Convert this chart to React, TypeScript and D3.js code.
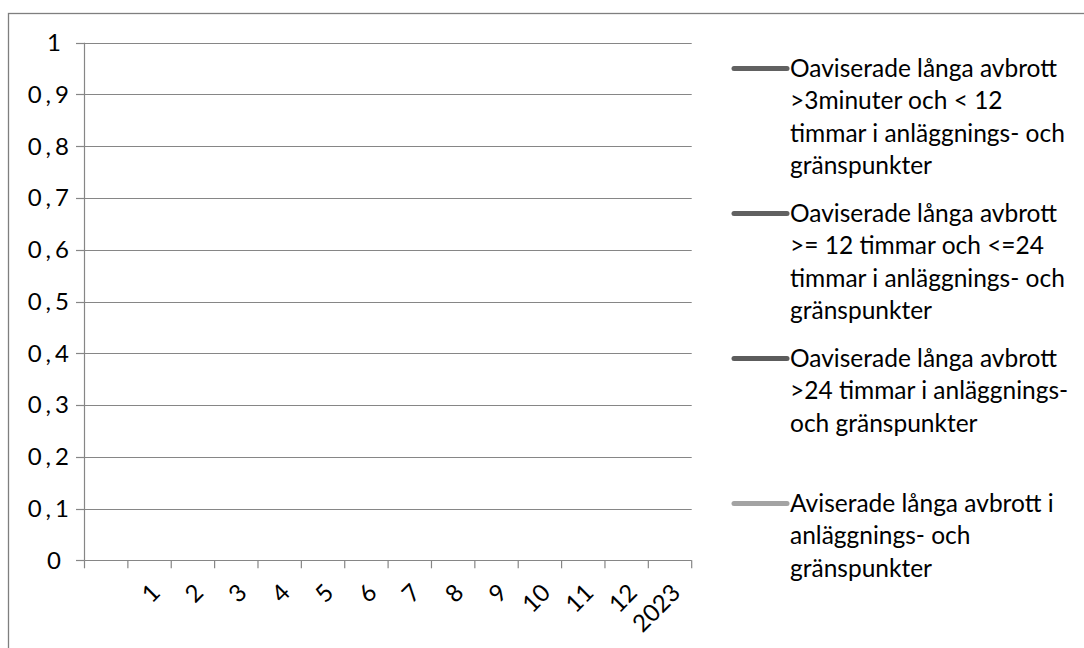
import React, { useEffect, useRef } from "react";
import * as d3 from "d3";

const categories: string[] = ["", "1", "2", "3", "4", "5", "6", "7", "8", "9", "10", "11", "12", "2023"];
const yTicks: number[] = [0, 0.1, 0.2, 0.3, 0.4, 0.5, 0.6, 0.7, 0.8, 0.9, 1];

const seriesNames: string[][] = [
  ["Oaviserade långa avbrott", ">3minuter och < 12", "timmar i anläggnings- och", "gränspunkter"],
  ["Oaviserade långa avbrott", ">= 12 timmar och <=24", "timmar i anläggnings- och", "gränspunkter"],
  ["Oaviserade långa avbrott", ">24 timmar i anläggnings-", "och gränspunkter"],
  ["Aviserade långa avbrott i", "anläggnings- och", "gränspunkter"],
];
const seriesColors: string[] = ["#616161", "#616161", "#5c5c5c", "#a3a3a3"];
// No data points are shown in the chart (all series empty)
const series1: (number | null)[] = [null, null, null, null, null, null, null, null, null, null, null, null, null, null];
const series2: (number | null)[] = [null, null, null, null, null, null, null, null, null, null, null, null, null, null];
const series3: (number | null)[] = [null, null, null, null, null, null, null, null, null, null, null, null, null, null];
const series4: (number | null)[] = [null, null, null, null, null, null, null, null, null, null, null, null, null, null];
const seriesValues = [series1, series2, series3, series4];

const FONT = "Lato, 'Noto Sans', sans-serif";
const FS = 24;

export default function App() {
  const ref = useRef<SVGSVGElement>(null);
  useEffect(() => {
    const svg = d3.select(ref.current);
    svg.selectAll("*").remove();
    const W = 1084, H = 648;
    const left = 84.5, right = 691.7, top = 42.7, bottom = 560.3;

    svg.append("rect").attr("x", 8.5).attr("y", 13.5).attr("width", W + 20).attr("height", H + 20)
      .attr("fill", "none").attr("stroke", "#7f7f7f").attr("stroke-width", 1.3);

    const x = d3.scaleBand<string>().domain(categories.map((c, i) => String(i))).range([left, right]);
    const y = d3.scaleLinear().domain([0, 1]).range([bottom, top]);

    const g = svg.append("g");
    g.selectAll("line.grid").data(yTicks.filter((t) => t > 0)).enter().append("line")
      .attr("x1", left).attr("x2", right)
      .attr("y1", (d) => Math.round(y(d)) + 0.5).attr("y2", (d) => Math.round(y(d)) + 0.5)
      .attr("stroke", "#868686").attr("stroke-width", 1.2);
    g.selectAll("line.yt").data(yTicks).enter().append("line")
      .attr("x1", 76).attr("x2", left)
      .attr("y1", (d) => Math.round(y(d)) + 0.5).attr("y2", (d) => Math.round(y(d)) + 0.5)
      .attr("stroke", "#868686").attr("stroke-width", 1.2);
    g.selectAll("text.yl").data(yTicks).enter().append("text")
      .attr("x", (d) => (Number.isInteger(d) ? 61 : 73))
      .attr("y", (d) => y(d))
      .attr("dy", "0.35em")
      .attr("text-anchor", "end")
      .attr("letter-spacing", (d) => (Number.isInteger(d) ? 0 : 4))
      .attr("font-family", FONT).attr("font-size", FS).attr("fill", "#000")
      .text((d) => String(d).replace(".", ","));
    g.append("line").attr("x1", left).attr("x2", left).attr("y1", top).attr("y2", bottom)
      .attr("stroke", "#868686").attr("stroke-width", 1.2);
    g.append("line").attr("x1", left).attr("x2", right).attr("y1", Math.round(bottom) + 0.5).attr("y2", Math.round(bottom) + 0.5)
      .attr("stroke", "#868686").attr("stroke-width", 1.2);
    const tickPos = categories.map((c, i) => x(String(i)) as number).concat([right]);
    g.selectAll("line.xt").data(tickPos).enter().append("line")
      .attr("x1", (d) => d).attr("x2", (d) => d)
      .attr("y1", bottom).attr("y2", bottom + 8)
      .attr("stroke", "#868686").attr("stroke-width", 1.2);
    g.selectAll("text.xl").data(categories).enter().append("text")
      .attr("transform", (d, i) => `translate(${(x(String(i)) as number) + x.bandwidth() / 2 + 6},${bottom + 28}) rotate(-45)`)
      .attr("text-anchor", "end")
      .attr("dy", "0.35em")
      .attr("font-family", FONT).attr("font-size", FS).attr("fill", "#000")
      .text((d) => d);

    const line = d3.line<number | null>()
      .defined((d) => d !== null)
      .x((d, i) => (x(String(i)) as number) + x.bandwidth() / 2)
      .y((d) => y(d as number));
    seriesValues.forEach((vals, si) => {
      g.append("path").attr("d", line(vals) || "").attr("fill", "none")
        .attr("stroke", seriesColors[si]).attr("stroke-width", 5);
    });

    const entryY = [68.5, 213.5, 358.5, 503.5];
    const lh = 32.3;
    seriesNames.forEach((lines, si) => {
      const ly = entryY[si];
      svg.append("line").attr("x1", 734).attr("x2", 787).attr("y1", ly).attr("y2", ly)
        .attr("stroke", seriesColors[si]).attr("stroke-width", 5).attr("stroke-linecap", "round");
      const t = svg.append("text").attr("font-family", FONT).attr("font-size", 24.5).attr("fill", "#000");
      lines.forEach((ln, li) => {
        t.append("tspan").attr("x", 790).attr("y", ly + li * lh).attr("dy", "0.35em").text(ln);
      });
    });
  }, []);
  return (
    <svg ref={ref} width={1084} height={648}
      style={{ position: "absolute", left: 0, top: 0, background: "#fff" }} />
  );
}
